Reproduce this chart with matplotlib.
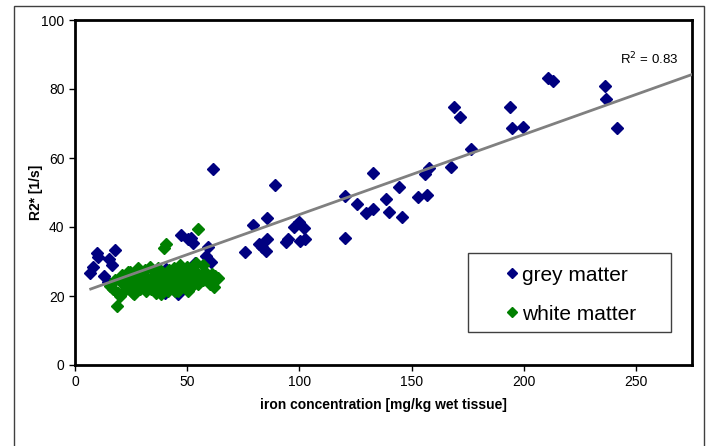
import matplotlib.pyplot as plt
import numpy as np
from matplotlib.patches import Rectangle

plt.rcParams["font.family"] = ["Liberation Sans", "DejaVu Sans"]

# grey matter: iron concentration [mg/kg] vs R2* [1/s]
grey_x = [6.9, 8.1, 9.6, 10.3, 13.0, 14.8, 15.2, 16.7, 17.7, 33.3, 38.4, 39.6, 39.9,
          40.7, 45.8, 47.3, 50.3, 51.7, 52.5, 53.7, 58.4, 59.1, 60.6, 61.3, 75.8,
          79.4, 82.0, 83.5, 85.3, 85.7, 85.7, 89.0, 93.9, 95.0, 97.6, 99.8, 100.5,
          102.0, 102.7, 120.2, 120.5, 125.9, 129.8, 132.7, 133.0, 138.5, 140.1,
          144.6, 145.6, 153.0, 156.0, 156.7, 157.7, 167.8, 169.0, 171.5, 176.4,
          194.1, 194.7, 199.6, 210.6, 212.9, 236.1, 236.5, 241.7]
grey_y = [26.8, 28.3, 32.5, 31.2, 25.8, 24.1, 30.6, 29.0, 33.3, 24.6, 26.0, 26.1, 20.8,
          27.7, 20.6, 37.7, 36.4, 36.7, 35.3, 29.5, 31.6, 34.3, 29.9, 56.7, 32.8,
          40.6, 35.2, 34.1, 33.1, 36.5, 42.5, 52.2, 35.7, 36.5, 40.1, 41.5, 36.0,
          39.6, 36.5, 36.9, 49.0, 46.7, 44.2, 45.1, 55.7, 48.0, 44.4,
          51.5, 43.0, 48.6, 55.4, 49.3, 57.0, 57.5, 74.9, 72.0, 62.5,
          74.9, 68.8, 69.1, 83.1, 82.2, 81.0, 77.0, 68.6]

# white matter
white_x = [15.5, 17.0, 18.0, 18.8, 19.0, 20.0, 21.0, 21.5, 22.0, 23.0, 23.5, 24.0,
           25.0, 25.5, 26.0, 27.0, 27.5, 28.0, 29.0, 29.5, 30.0, 31.0, 31.5, 32.0,
           33.0, 33.5, 34.0, 35.0, 35.5, 36.0, 37.0, 37.5, 38.0, 39.0, 39.5, 39.9,
           40.4, 41.0, 41.5, 42.0, 43.0, 43.5, 44.0, 45.0, 45.5, 46.0, 47.0, 47.5,
           48.0, 49.0, 49.5, 50.0, 51.0, 51.5, 52.0, 53.0, 53.5, 54.0, 54.7, 55.0,
           56.0, 56.9, 57.0, 58.0, 59.0, 60.0, 61.0, 62.0, 62.5, 63.6, 22.5, 26.5,
           30.5, 34.5, 38.5, 42.5, 46.5, 50.5, 24.5, 28.5, 36.5, 44.5]
white_y = [23.0, 22.0, 24.5, 17.0, 21.0, 20.0, 26.0, 23.5, 21.5, 25.0, 27.0, 22.5,
           24.0, 26.5, 21.0, 25.5, 23.0, 28.0, 22.0, 26.0, 24.0, 27.5, 21.5, 25.0,
           23.0, 28.5, 22.0, 26.0, 24.5, 21.0, 28.0, 23.5, 25.5, 22.5, 34.0, 26.5,
           35.0, 24.0, 21.5, 27.5, 25.0, 22.5, 28.0, 24.0, 26.5, 21.5, 29.0, 23.5,
           25.5, 27.0, 22.5, 28.5, 24.5, 26.0, 23.0, 27.5, 25.0, 29.5, 39.5, 23.5,
           26.0, 29.0, 24.5, 27.0, 25.5, 23.5, 26.5, 22.7, 25.8, 25.1, 24.0, 20.5,
           22.5, 24.5, 20.5, 23.0, 24.0, 21.5, 27.0, 25.0, 27.0, 21.5]

# linear trend through grey matter
trend_slope = 0.232
trend_intercept = 20.4
trend_range = [7, 275]
r2_text = "R$^2$ = 0.83"

fig = plt.figure(figsize=(7.12, 4.46), dpi=100)
fig.patches.append(Rectangle((14 / 712, -0.05), 690 / 712, 1.05 - 6 / 446,
                             transform=fig.transFigure, fill=False,
                             edgecolor="#404040", linewidth=1))
ax = fig.add_axes([75 / 712, 1 - 365 / 446, 617 / 712, 345 / 446])

ax.plot(grey_x, grey_y, "D", color="#000080", markersize=6, linestyle="none",
        label="grey matter", zorder=3)
ax.plot(white_x, white_y, "D", color="#008000", markersize=6, linestyle="none",
        label="white matter", zorder=4)

tx = np.array(trend_range)
ax.plot(tx, trend_slope * tx + trend_intercept, color="#808080", linewidth=2, zorder=5)
ax.text(269, 88.8, r2_text, ha="right", va="center", fontsize=9.5)

ax.set_xlim(0, 275)
ax.set_ylim(0, 100)
ax.set_xticks([0, 50, 100, 150, 200, 250])
ax.set_yticks([0, 20, 40, 60, 80, 100])
ax.tick_params(direction="out", length=4, width=1, labelsize=10)
for s in ax.spines.values():
    s.set_linewidth(2)
    s.set_color("black")

ax.set_xlabel("iron concentration [mg/kg wet tissue]", fontsize=10, fontweight="bold", labelpad=6.5)
ax.set_ylabel("R2* [1/s]", fontsize=10, fontweight="bold", labelpad=-1)

# legend box drawn separately so the padding matches
ax.add_patch(Rectangle((0.637, 0.0957), 0.329, 0.229, transform=ax.transAxes,
                       facecolor="white", edgecolor="#404040", linewidth=1, zorder=6))
leg = ax.legend(loc="center left", bbox_to_anchor=(0.681, 0.204),
                fontsize=15, frameon=False, borderpad=0, handletextpad=0.2,
                handlelength=0.6, labelspacing=0.95, markerscale=0.85)
leg.set_zorder(7)

fig.savefig("out.png", dpi=100)
